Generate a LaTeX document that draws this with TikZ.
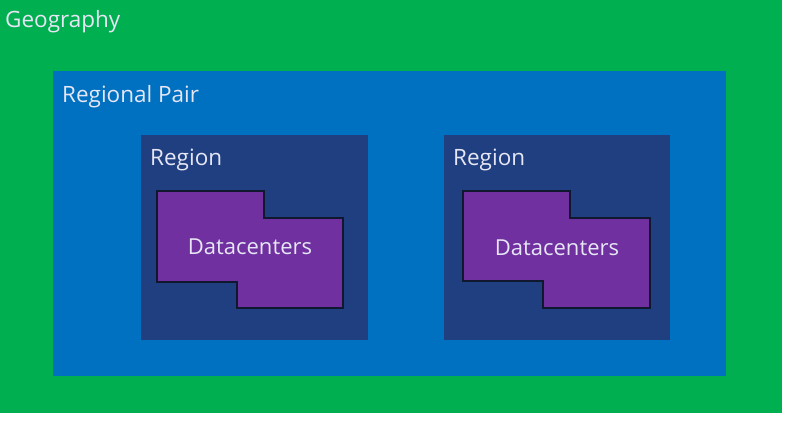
\documentclass[tikz,border=0pt]{standalone}
\usepackage{fontspec}
\setmainfont{Open Sans}
\definecolor{geo}{HTML}{00B050}
\definecolor{pair}{HTML}{0070C0}
\definecolor{reg}{HTML}{1F3F80}
\definecolor{dc}{HTML}{7030A0}
\definecolor{edge}{HTML}{101830}
\definecolor{txt}{HTML}{E6E6F4}
\begin{document}
\begin{tikzpicture}[x=1pt,y=-1pt,
  lbl/.style={anchor=base west,inner sep=0pt,text=txt,font=\fontsize{22.5}{26}\selectfont},
  dclbl/.style={inner sep=0pt,text=txt,font=\fontsize{22}{26}\selectfont},
  dcshape/.style={fill=dc,draw=edge,line width=1.3pt,line join=miter},
  box/.style={draw=none,inner sep=0pt,anchor=north west}]
\useasboundingbox (0,0) rectangle (788,424);
\fill[white] (0,0) rectangle (788,424);
\node[box,fill=geo,minimum width=782pt,minimum height=413pt] (geo) at (0,0) {};
\node[box,fill=pair,minimum width=673pt,minimum height=305pt] (pair) at (53,71) {};
\node[box,fill=reg,minimum width=227pt,minimum height=205pt] (regA) at (141,135) {};
\node[box,fill=reg,minimum width=226pt,minimum height=205pt] (regB) at (444,135) {};
\node[lbl] (geolbl) at (5,27) {Geography};
\node[lbl] (pairlbl) at (62,102) {Regional Pair};
\node[lbl] (regAlbl) at (150,165) {Region};
\node[lbl] (regBlbl) at (453,165) {Region};
\draw[dcshape]
  (157,191) -- (264,191) -- (264,218) -- (343,218) -- (343,308) -- (237,308) -- (237,282) -- (157,282) -- cycle;
\draw[dcshape]
  (463,191) -- (570,191) -- (570,218) -- (650,218) -- (650,308) -- (543,308) -- (543,281) -- (463,281) -- cycle;
\node[dclbl] (dcA) at (250,247) {Datacenters};
\node[dclbl] (dcB) at (557,248) {Datacenters};
\end{tikzpicture}
\end{document}
